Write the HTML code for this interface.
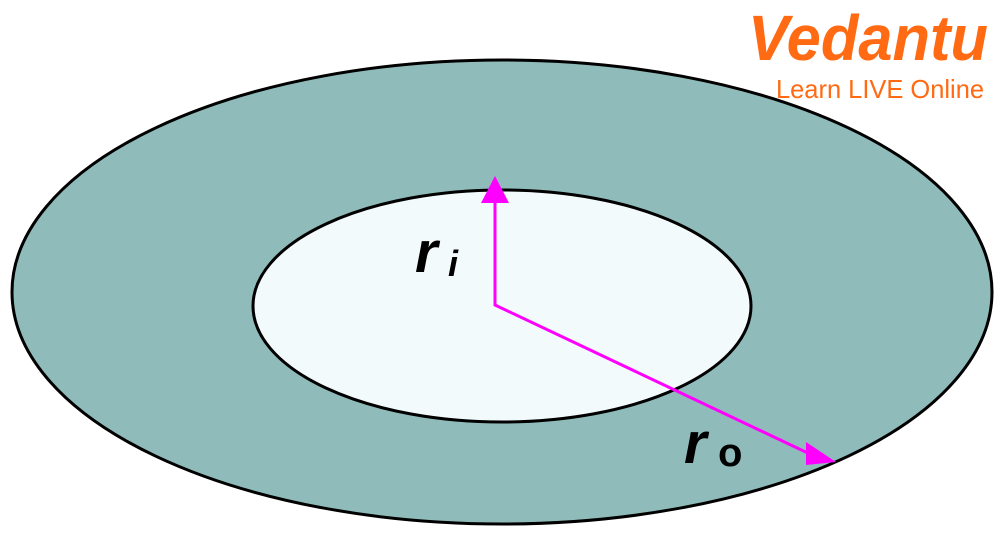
<!DOCTYPE html>
<html><head><style>
html,body{margin:0;padding:0;background:#fff;width:1000px;height:551px;overflow:hidden}
</style></head><body>
<svg width="1000" height="551" viewBox="0 0 1000 551" xmlns="http://www.w3.org/2000/svg">
<ellipse cx="502" cy="292" rx="490" ry="232" fill="#8fbcba" stroke="#000" stroke-width="3"/>
<ellipse cx="502" cy="306" rx="249" ry="116" fill="#f3fafc" stroke="#000" stroke-width="3"/>
<polyline points="495,200 495,305 812,455" fill="none" stroke="#ff00ff" stroke-width="3"/>
<polygon points="495,176 481,203 509,203" fill="#ff00ff"/>
<polygon points="836,462 806,442 806,465" fill="#ff00ff"/>
<text x="415" y="272" font-family="Liberation Sans, sans-serif" font-weight="bold" font-style="italic" font-size="58" fill="#000">r</text>
<text x="448" y="276" font-family="Liberation Sans, sans-serif" font-weight="bold" font-style="italic" font-size="36" fill="#000">i</text>
<text x="684" y="463" font-family="Liberation Sans, sans-serif" font-weight="bold" font-style="italic" font-size="58" fill="#000">r</text>
<text x="718" y="466" font-family="Liberation Sans, sans-serif" font-weight="bold" font-size="40" fill="#000">o</text>
<text x="748" y="60" textLength="240" lengthAdjust="spacingAndGlyphs" font-family="Liberation Sans, sans-serif" font-weight="bold" font-style="italic" font-size="64" fill="#ff6a13">Vedantu</text>
<text x="776" y="98" textLength="208" lengthAdjust="spacingAndGlyphs" font-family="Liberation Sans, sans-serif" font-size="26" fill="#ff6a13">Learn LIVE Online</text>
</svg>
</body></html>
